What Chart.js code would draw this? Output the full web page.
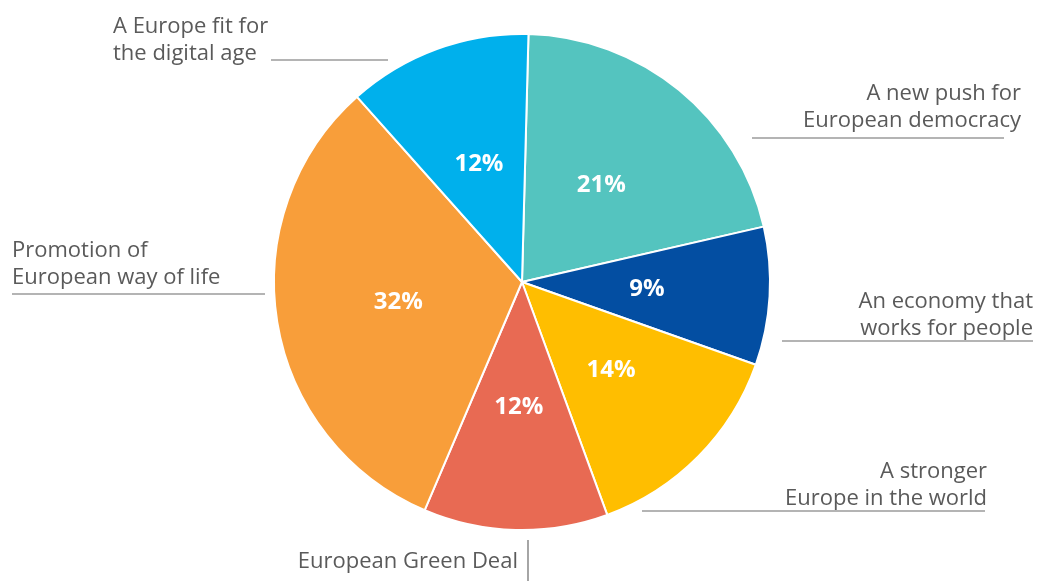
<!DOCTYPE html>
<html>
<head>
<meta charset="utf-8">
<script src="https://cdn.jsdelivr.net/npm/chart.js@4/dist/chart.umd.min.js"></script>
<style>
  html, body { margin: 0; padding: 0; background: #ffffff; }
  #wrap { width: 1041px; height: 581px; position: relative; }
</style>
</head>
<body>
<div id="wrap"><canvas id="prioritiesChart" width="1041" height="581"></canvas></div>
<script>
// Share of contributions per Commission priority (clockwise from the top)
const categories = [
    ['A new push for', 'European democracy'],
    ['An economy that', 'works for people'],
    ['A stronger', 'Europe in the world'],
    ['European Green Deal'],
    ['Promotion of', 'European way of life'],
    ['A Europe fit for', 'the digital age']
];
const shares = [21, 9, 14, 12, 32, 12];
const sliceColors = ['#54c4bf', '#034ea2', '#ffbe00', '#e86a53', '#f89e3a', '#00b0ec'];

// Where each outer caption sits and how its leader line runs
const captionLayout = [
    { x: 1021, y: 100, align: 'right', line: [752, 138, 1004, 138] },
    { x: 1033, y: 308, align: 'right', line: [782, 341, 1033, 341] },
    { x: 987, y: 478, align: 'right', line: [642, 511, 985, 511] },
    { x: 518, y: 568, align: 'right', line: [528, 540, 528, 581] },
    { x: 12, y: 257, align: 'left', line: [12, 294, 265, 294] },
    { x: 113, y: 33, align: 'left', line: [271, 60, 388, 60] }
];

const FONT = '"Open Sans", "DejaVu Sans", sans-serif';

/**
 * Percent labels inside the slices plus the captions with leader lines
 */
const sliceLabels = {
    id: 'sliceLabels',
    afterDatasetsDraw(chart) {
        const ctx = chart.ctx;
        const meta = chart.getDatasetMeta(0);

        ctx.save();
        // percentages
        ctx.fillStyle = '#ffffff';
        ctx.font = 'bold 24px ' + FONT;
        ctx.textAlign = 'center';
        ctx.textBaseline = 'middle';
        meta.data.forEach((arc, i) => {
            const mid = (arc.startAngle + arc.endAngle) / 2;
            const r = arc.outerRadius * 0.505;
            ctx.fillText(shares[i] + '%', arc.x + Math.cos(mid) * r, arc.y + Math.sin(mid) * r);
        });

        // captions
        ctx.fillStyle = '#5a5a5a';
        ctx.strokeStyle = '#6a6a6a';
        ctx.lineWidth = 1.2;
        ctx.font = '22px ' + FONT;
        ctx.textBaseline = 'alphabetic';
        categories.forEach((lines, i) => {
            const pos = captionLayout[i];
            ctx.textAlign = pos.align;
            lines.forEach((text, k) => {
                ctx.fillText(text, pos.x, pos.y + k * 27);
            });
            const l = pos.line;
            ctx.beginPath();
            ctx.moveTo(l[0], l[1]);
            ctx.lineTo(l[2], l[3]);
            ctx.stroke();
        });
        ctx.restore();
    }
};

new Chart(document.getElementById('prioritiesChart'), {
    type: 'pie',
    data: {
        labels: categories.map(c => c.join(' ')),
        datasets: [{
            data: shares,
            backgroundColor: sliceColors,
            borderColor: '#ffffff',
            borderWidth: 2
        }]
    },
    options: {
        responsive: false,
        animation: false,
        rotation: 1.5,
        layout: {
            padding: { left: 273, right: 270, top: 33, bottom: 50 }
        },
        plugins: {
            legend: { display: false },
            tooltip: { enabled: false }
        }
    },
    plugins: [sliceLabels]
});
</script>
</body>
</html>
